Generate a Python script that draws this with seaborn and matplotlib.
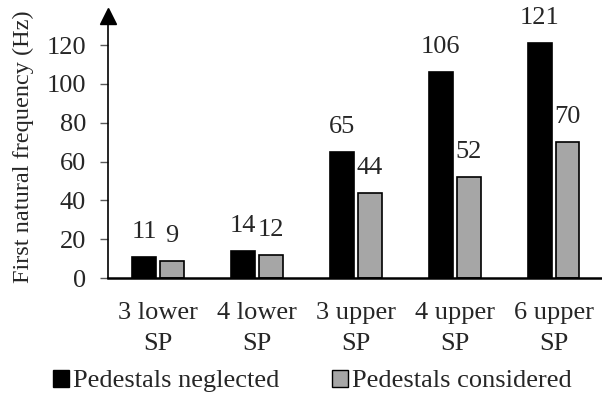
import pandas as pd
import matplotlib
matplotlib.use("Agg")
import matplotlib.pyplot as plt
import seaborn as sns
from matplotlib.patches import Patch

# data
categories = ["3 lower\nSP", "4 lower\nSP", "3 upper\nSP", "4 upper\nSP", "6 upper\nSP"]
neglected = [11, 14, 65, 106, 121]
considered = [9, 12, 44, 52, 70]
series = ["Pedestals neglected", "Pedestals considered"]
colors = ["#000000", "#A6A6A6"]

df = pd.DataFrame({
    "cat": categories * 2,
    "val": neglected + considered,
    "series": [series[0]] * 5 + [series[1]] * 5,
})

sns.set_style("white")
plt.rcParams["font.family"] = ["Liberation Serif", "DejaVu Serif"]

fig = plt.figure(figsize=(6.02, 3.97), dpi=100)
ax = fig.add_axes([0.180, 0.2997, 0.822, 0.66])

sns.barplot(data=df, x="cat", y="val", hue="series", order=categories,
            hue_order=series, palette=colors, width=0.56, gap=0.14,
            edgecolor="black", linewidth=1.2, ax=ax, legend=False)

for cont in ax.containers:
    ax.bar_label(cont, fontsize=19, padding=10)

ax.set_ylim(0, 135)
ax.set_yticks(range(0, 121, 20))
ax.set_xlim(-0.5, 4.5)
ax.set_xticks(range(len(categories)))
ax.set_xticklabels(categories, linespacing=1.55)
ax.set_xlabel("")
ax.set_ylabel("First natural frequency (Hz)", fontsize=17.5, labelpad=9)
ax.tick_params(axis="y", labelsize=19, length=6, width=1, color="#595959", left=True, pad=10)
ax.tick_params(axis="x", labelsize=19, length=0, pad=17)
for s in ["top", "right"]:
    ax.spines[s].set_visible(False)
ax.spines["left"].set_color("black")
ax.spines["left"].set_linewidth(1.2)
ax.spines["bottom"].set_color("black")
ax.spines["bottom"].set_linewidth(1.8)
# arrow head on y axis
ax.plot(0, 1, marker="^", color="black", markersize=12, transform=ax.transAxes, clip_on=False)

# legend below
handles = [Patch(facecolor=c, edgecolor="black") for c in colors]
fig.legend(handles, series, loc="center", bbox_to_anchor=(0.519, 0.04), ncol=2,
           frameon=False, fontsize=19, handlelength=0.6, handleheight=0.6,
           handletextpad=0.15, columnspacing=2.0, borderpad=0)

fig.savefig("out.png", dpi=100)
